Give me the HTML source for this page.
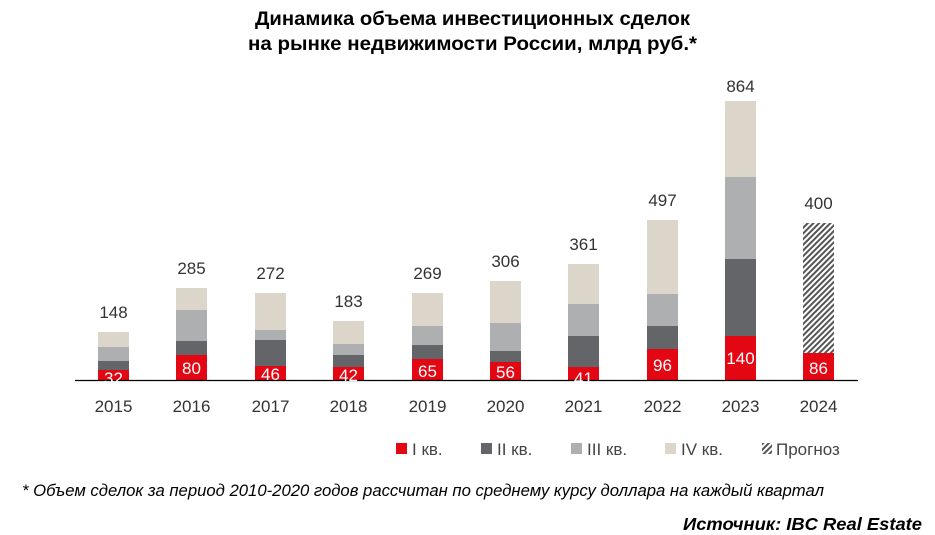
<!DOCTYPE html>
<html><head><meta charset="utf-8"><style>
body{margin:0;background:#fff;}
svg{display:block;font-family:"Liberation Sans",sans-serif;}
</style></head><body>
<svg width="935" height="535" viewBox="0 0 935 535" xmlns="http://www.w3.org/2000/svg">
<defs>
<pattern id="h" width="4" height="4" patternUnits="userSpaceOnUse" patternTransform="rotate(45)">
<rect width="4" height="4" fill="#fff"/><rect width="2" height="4" fill="#555"/>
</pattern>
</defs>
<text x="255" y="25" textLength="435" lengthAdjust="spacingAndGlyphs" font-size="19.5" font-weight="bold" fill="#000">Динамика объема инвестиционных сделок</text>
<text x="248" y="50" textLength="449" lengthAdjust="spacingAndGlyphs" font-size="19.5" font-weight="bold" fill="#000">на рынке недвижимости России, млрд руб.*</text>
<g>
<rect x="98" y="332" width="31" height="15" fill="#dcd6ca"/><rect x="98" y="347" width="31" height="14" fill="#adafb1"/><rect x="98" y="361" width="31" height="9" fill="#636569"/><rect x="98" y="370" width="31" height="10" fill="#e30613"/>
<rect x="176" y="288" width="31" height="22" fill="#dcd6ca"/><rect x="176" y="310" width="31" height="31" fill="#adafb1"/><rect x="176" y="341" width="31" height="14" fill="#636569"/><rect x="176" y="355" width="31" height="25" fill="#e30613"/>
<rect x="255" y="293" width="31" height="37" fill="#dcd6ca"/><rect x="255" y="330" width="31" height="10" fill="#adafb1"/><rect x="255" y="340" width="31" height="26" fill="#636569"/><rect x="255" y="366" width="31" height="14" fill="#e30613"/>
<rect x="333" y="321" width="31" height="23" fill="#dcd6ca"/><rect x="333" y="344" width="31" height="11" fill="#adafb1"/><rect x="333" y="355" width="31" height="12" fill="#636569"/><rect x="333" y="367" width="31" height="13" fill="#e30613"/>
<rect x="412" y="293" width="31" height="33" fill="#dcd6ca"/><rect x="412" y="326" width="31" height="19" fill="#adafb1"/><rect x="412" y="345" width="31" height="14" fill="#636569"/><rect x="412" y="359" width="31" height="21" fill="#e30613"/>
<rect x="490" y="281" width="31" height="42" fill="#dcd6ca"/><rect x="490" y="323" width="31" height="28" fill="#adafb1"/><rect x="490" y="351" width="31" height="11" fill="#636569"/><rect x="490" y="362" width="31" height="18" fill="#e30613"/>
<rect x="568" y="264" width="31" height="40" fill="#dcd6ca"/><rect x="568" y="304" width="31" height="32" fill="#adafb1"/><rect x="568" y="336" width="31" height="31" fill="#636569"/><rect x="568" y="367" width="31" height="13" fill="#e30613"/>
<rect x="647" y="220" width="31" height="74" fill="#dcd6ca"/><rect x="647" y="294" width="31" height="32" fill="#adafb1"/><rect x="647" y="326" width="31" height="23" fill="#636569"/><rect x="647" y="349" width="31" height="31" fill="#e30613"/>
<rect x="725" y="101" width="31" height="76" fill="#dcd6ca"/><rect x="725" y="177" width="31" height="82" fill="#adafb1"/><rect x="725" y="259" width="31" height="77" fill="#636569"/><rect x="725" y="336" width="31" height="44" fill="#e30613"/>
<rect x="803" y="223" width="31" height="130" fill="url(#h)"/><rect x="803" y="353" width="31" height="27" fill="#e30613"/>
</g>
<line x1="75" y1="380.5" x2="858" y2="380.5" stroke="#000" stroke-width="1.2"/>
<g font-size="17" fill="#fff" text-anchor="middle">
<text x="113.5" y="384">32</text><text x="191.5" y="374">80</text><text x="270.5" y="380">46</text><text x="348.5" y="381">42</text><text x="427.5" y="377">65</text><text x="505.5" y="378">56</text><text x="583.5" y="384">41</text><text x="662.5" y="371">96</text><text x="740.5" y="364">140</text><text x="818.5" y="374">86</text>
</g>
<g font-size="17" fill="#333" text-anchor="middle">
<text x="113.5" y="318">148</text><text x="191.5" y="274">285</text><text x="270.5" y="279">272</text><text x="348.5" y="307">183</text><text x="427.5" y="279">269</text><text x="505.5" y="267">306</text><text x="583.5" y="250">361</text><text x="662.5" y="206">497</text><text x="740.5" y="92">864</text><text x="818.5" y="209">400</text>
</g>
<g font-size="17" fill="#333" text-anchor="middle">
<text x="113.5" y="412">2015</text><text x="191.5" y="412">2016</text><text x="270.5" y="412">2017</text><text x="348.5" y="412">2018</text><text x="427.5" y="412">2019</text><text x="505.5" y="412">2020</text><text x="583.5" y="412">2021</text><text x="662.5" y="412">2022</text><text x="740.5" y="412">2023</text><text x="818.5" y="412">2024</text>
</g>
<g font-size="17" fill="#444">
<rect x="396" y="443" width="11" height="11" fill="#e30613"/><text x="412" y="455">I кв.</text>
<rect x="481" y="443" width="11" height="11" fill="#636569"/><text x="497" y="455">II кв.</text>
<rect x="571" y="443" width="11" height="11" fill="#adafb1"/><text x="587" y="455">III кв.</text>
<rect x="665" y="443" width="11" height="11" fill="#dcd6ca"/><text x="681" y="455">IV кв.</text>
<rect x="762" y="443" width="10" height="11" fill="url(#h)"/><text x="776" y="455">Прогноз</text>
</g>
<text x="22" y="496" textLength="802" lengthAdjust="spacingAndGlyphs" font-size="16.5" font-style="italic" fill="#000">* Объем сделок за период 2010-2020 годов рассчитан по среднему курсу доллара на каждый квартал</text>
<text x="683" y="530" textLength="239" lengthAdjust="spacingAndGlyphs" font-size="17.5" font-style="italic" font-weight="bold" fill="#000">Источник: IBC Real Estate</text>
</svg>
</body></html>
